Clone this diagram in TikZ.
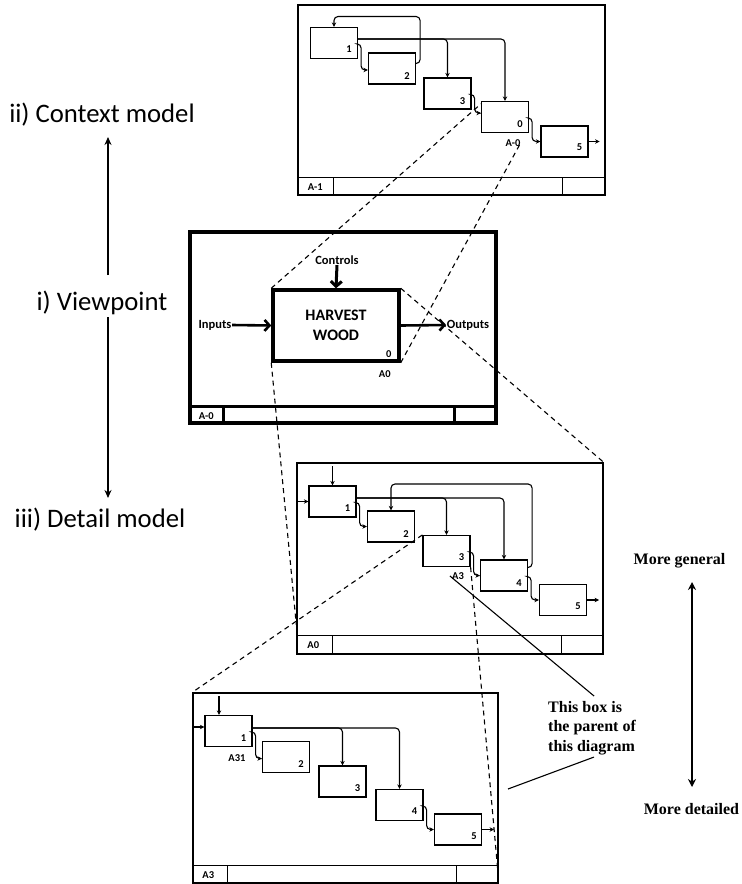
\documentclass[tikz,border=0pt]{standalone}
\usepackage{fontspec}
\setmainfont{Carlito}
\newfontfamily\serifbf{Liberation Serif}
\usetikzlibrary{arrows.meta,calc}
\begin{document}
\begin{tikzpicture}[x=1pt,y=-1pt,
  sbox/.style={draw,line width=1.2pt,minimum width=47pt,minimum height=31pt,inner sep=0pt},
  frm/.style={draw,line width=1.4pt,inner sep=0pt},
  barline/.style={line width=1.4pt},
  conn/.style={line width=1.1pt,rounded corners=4pt,-{Stealth[length=4.5pt,width=4.5pt]}},
  num/.style={font=\bfseries\fontsize{10.5}{11}\selectfont,inner sep=0pt},
  lbl/.style={font=\bfseries\fontsize{12.5}{13}\selectfont,inner sep=0.5pt},
  dsh/.style={line width=1.1pt,dash pattern=on 5pt off 4pt},
  bigarrow/.style={line width=2.6pt,-{Straight Barb[length=5pt,width=11pt]}},
  side/.style={font=\fontsize{26.7}{30}\selectfont,inner sep=0pt},
  sidearrow/.style={line width=1.4pt,-{Stealth[length=8pt,width=7pt]}},
  note/.style={font=\serifbf\bfseries\fontsize{16}{19.5}\selectfont,inner sep=0pt}]
\useasboundingbox (0,0) rectangle (742,884);

% ---------- left labels ----------
\node[side] (ctx) at (102,115) {ii) Context model};
\node[side] (vp) at (102,303) {i) Viewpoint};
\node[side] (det) at (100,520) {iii) Detail model};
\coordinate (upstart) at (108,275);
\coordinate (upend) at (108,137);
\coordinate (dnstart) at (108,317);
\coordinate (dnend) at (108,498);
\draw[sidearrow] (upstart) -- (upend);
\draw[sidearrow] (dnstart) -- (dnend);

% ---------- top diagram (A-1) ----------
\node[frm,minimum width=307pt,minimum height=190pt] (F0) at (451.5,100) {};
\draw[barline] ([yshift=18pt]F0.south west) -- ([yshift=18pt]F0.south east);
\draw[barline] ([xshift=36pt]F0.south west) -- ++(0,-18);
\draw[barline] ([xshift=-43pt]F0.south east) -- ++(0,-18);
\node[num] at ([shift={(18,-9)}]F0.south west) {A-1};
\node[sbox] (T1) at (334,43) {};
\node[sbox] (T2) at (392,68.5) {};
\node[sbox] (T3) at (447.5,93.5) {};
\node[sbox] (T0) at (505,117) {};
\node[sbox] (T5) at (564.5,141.5) {};
\node[num] at ([shift={(-9,-10)}]T1.south east) {1};
\node[num] at ([shift={(-9,-9)}]T2.south east) {2};
\node[num] at ([shift={(-9,-9)}]T3.south east) {3};
\node[num] at ([shift={(-9,-9)}]T0.south east) {0};
\node[num] at ([shift={(-9,-10)}]T5.south east) {5};
\node[num] (T0id) at (513,143) {A-0};
\draw[conn] ([yshift=4pt]T1.east) -| (T3.north);
\draw[conn] ([yshift=4pt]T1.east) -| (T0.north);
\draw[conn] ([yshift=5pt]T2.east) -- ++(4,0) -- ++(0,-47) -| (T1.north);
\draw[conn] ([yshift=-1pt]T1.east) -- ++(3,0) |- ([yshift=-1.5pt]T2.west);
\draw[conn] ([yshift=-1pt]T3.east) -- ++(3,0) |- ([yshift=4pt]T0.west);
\draw[conn] ([yshift=-1pt]T0.east) -- ++(3,0) |- (T5.west);
\draw[conn] (T5.east) -- ++(11,0);

% ---------- middle diagram (A-0) ----------
\node[draw,line width=3.5pt,inner sep=0pt,minimum width=306pt,minimum height=191pt] (F1) at (343,327.5) {};
\draw[line width=3pt] ([yshift=18pt]F1.south west) -- ([yshift=18pt]F1.south east);
\draw[line width=3pt] ([xshift=35pt]F1.south west) -- ++(0,-18);
\draw[line width=3pt] ([xshift=-43pt]F1.south east) -- ++(0,-18);
\node[num] at ([shift={(18,-9)}]F1.south west) {A-0};
\node[draw,line width=3.5pt,inner sep=0pt,minimum width=126pt,minimum height=71pt,align=center,
      font=\bfseries\fontsize{16}{20}\selectfont] (HW) at (336,325.5) {HARVEST\\WOOD};
\node[num] at ([shift={(-12,-9)}]HW.south east) {0};
\node[num] at ([shift={(-16,11)}]HW.south east) {A0};
\node[lbl] (ctl) at (337,260) {Controls};
\node[lbl] (inp) at (215,325) {Inputs};
\node[lbl] (outp) at (468,325) {Outputs};
\draw[bigarrow,line width=3pt] (ctl.south) -- (HW.north);
\draw[bigarrow] (inp.east) -- (HW.west);
\draw[bigarrow] (HW.east) -- (outp.west);

% ---------- detail diagram (A0) ----------
\node[frm,minimum width=306pt,minimum height=191pt] (F2) at (450,558.5) {};
\draw[barline] ([yshift=19pt]F2.south west) -- ([yshift=19pt]F2.south east);
\draw[barline] ([xshift=36pt]F2.south west) -- ++(0,-19);
\draw[barline] ([xshift=-42pt]F2.south east) -- ++(0,-19);
\node[num] at ([shift={(17,-9.5)}]F2.south west) {A0};
\node[sbox] (D1) at (332.5,501.5) {};
\node[sbox] (D2) at (391,526.5) {};
\node[sbox] (D3) at (446.5,551) {};
\node[sbox] (D4) at (504,575.5) {};
\node[sbox] (D5) at (563,600) {};
\node[num] at ([shift={(-9,-10)}]D1.south east) {1};
\node[num] at ([shift={(-9,-9)}]D2.south east) {2};
\node[num] at ([shift={(-9,-10)}]D3.south east) {3};
\node[num] at ([shift={(-9,-9)}]D4.south east) {4};
\node[num] at ([shift={(-9,-10)}]D5.south east) {5};
\node[num] (D3id) at (458,576) {A3};
\draw[conn] (F2.west |- D1.west) -- (D1.west);
\draw[conn] ([yshift=-4pt]F2.north -| D1.north) -- (D1.north);
\draw[conn] ([yshift=3.5pt]D1.east) -| (D3.north);
\draw[conn] ([yshift=3.5pt]D1.east) -| (D4.north);
\draw[conn] ([yshift=8pt]D4.east) -- ++(4,0) -- ++(0,-83.5) -| (D2.north);
\draw[conn] ([yshift=-1pt]D1.east) -- ++(3,0) |- (D2.west);
\draw[conn] ([yshift=-1pt]D3.east) -- ++(3,0) |- (D4.west);
\draw[conn] ([yshift=-1pt]D4.east) -- ++(3,0) |- (D5.west);
\draw[conn] (D5.east) -- ++(12,0);

% ---------- bottom diagram (A3) ----------
\node[frm,minimum width=305pt,minimum height=190pt] (F3) at (345.5,788) {};
\draw[barline] ([yshift=18pt]F3.south west) -- ([yshift=18pt]F3.south east);
\draw[barline] ([xshift=35pt]F3.south west) -- ++(0,-18);
\draw[barline] ([xshift=-42pt]F3.south east) -- ++(0,-18);
\node[num] at ([shift={(16,-9)}]F3.south west) {A3};
\node[sbox] (B1) at (228.5,731) {};
\node[sbox] (B2) at (286,757) {};
\node[sbox] (B3) at (342.5,781.5) {};
\node[sbox] (B4) at (399.5,805) {};
\node[sbox] (B5) at (458,829.5) {};
\node[num] at ([shift={(-9,-9)}]B1.south east) {1};
\node[num] at ([shift={(-9,-9)}]B2.south east) {2};
\node[num] at ([shift={(-9,-10)}]B3.south east) {3};
\node[num] at ([shift={(-9,-10)}]B4.south east) {4};
\node[num] at ([shift={(-8,-9)}]B5.south east) {5};
\node[num] at (237,758) {A31};
\draw[conn] ([yshift=4pt]F3.west |- B1.west) -- ([yshift=4pt]B1.west);
\draw[conn] ([yshift=-4pt]F3.north -| B1.north) ++(-9.5,0) -- ([xshift=-9.5pt]B1.north);
\draw[conn] ([yshift=3pt]B1.east) -| (B3.north);
\draw[conn] ([yshift=3pt]B1.east) -| (B4.north);
\draw[conn] ([yshift=-1pt]B1.east) -- ++(3,0) |- ([yshift=-1.5pt]B2.west);
\draw[conn] ([yshift=-1pt]B4.east) -- ++(3,0) |- (B5.west);
\draw[conn] (B5.east) -- ++(12,0);

% ---------- dashed correspondence lines ----------
\draw[dsh] (HW.north west) -- ([yshift=-3pt]T0.north west);
\draw[dsh] (HW.south east) -- (T0id.east);
\draw[dsh] (HW.north east) -- (F2.north east);
\draw[dsh] (HW.south west) -- ([yshift=30pt]F2.south west);
\draw[dsh] (D3.north west) -- (F3.north west);
\draw[dsh] (D3.south east) -- ([yshift=3pt]F3.south east);

% ---------- annotations ----------
\node[note,align=left,anchor=north west] (parent) at (548,701) {This box is\\the parent of\\this diagram};
\coordinate (pend) at (508,789);
\draw[line width=1.1pt] ([xshift=-2pt]D3id.west) -- ([shift={(2,-5)}]parent.north);
\draw[line width=1.1pt] ([shift={(2,2)}]parent.south) -- (pend);
\node[note] (gen) at (679.5,561) {More general};
\node[note] (detl) at (691.5,809) {More detailed};
\draw[line width=2pt,{Stealth[length=8pt,width=8pt]}-{Stealth[length=8pt,width=8pt]}] (692,582) -- (692,787);
\end{tikzpicture}
\end{document}
